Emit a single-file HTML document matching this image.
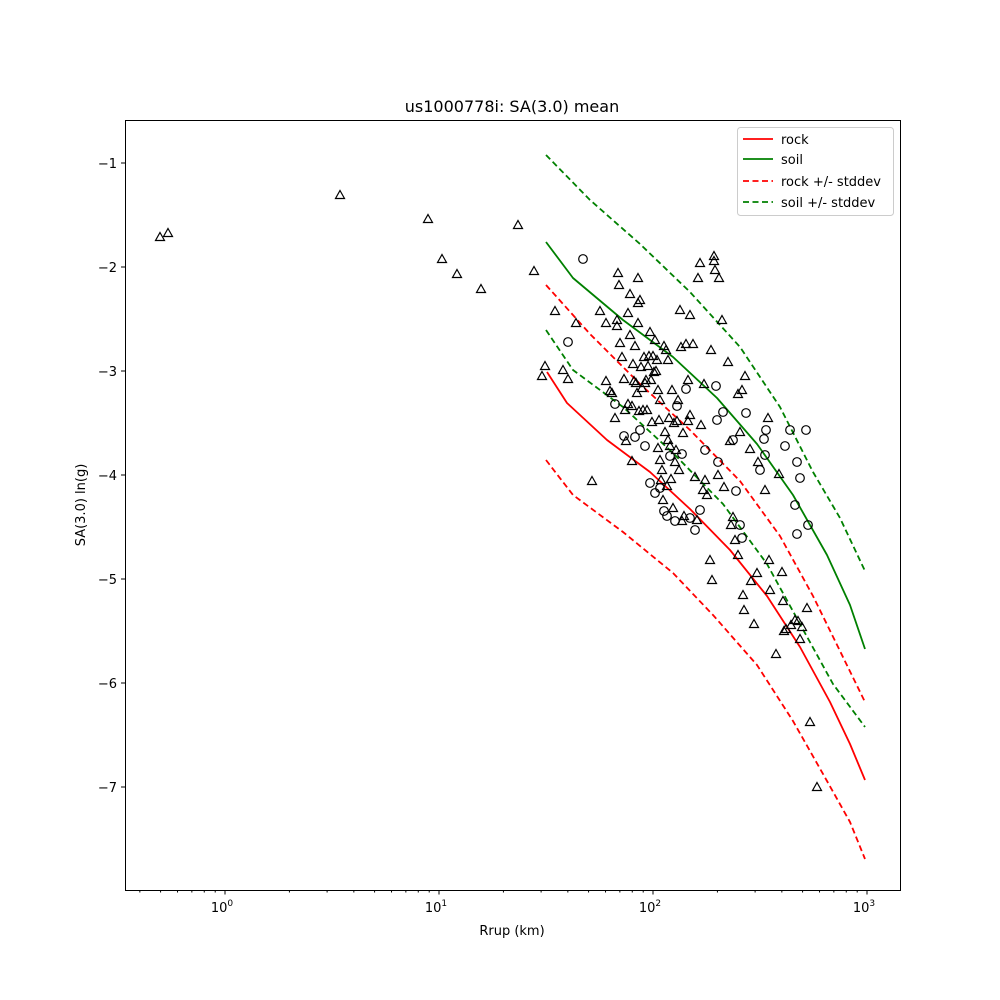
<!DOCTYPE html>
<html><head><meta charset="utf-8"><style>
html,body{margin:0;padding:0;background:#fff;}
svg{display:block;font-family:"DejaVu Sans","Liberation Sans",sans-serif;}
</style></head><body>
<svg id="s" width="1000" height="1000" viewBox="0 0 1000 1000" xmlns="http://www.w3.org/2000/svg">
<rect width="1000" height="1000" fill="#fff"/>
<text x="512" y="112" font-size="16" text-anchor="middle">us1000778i: SA(3.0) mean</text>
<g id="curves" fill="none" stroke-width="1.8" stroke-linejoin="round">
<polyline stroke="#ff0000" points="547,372 567,403 607,440 650,472 690,509 730,550 767,596 800,647 830,702 850,744 865,780"/>
<polyline stroke="#008000" points="546,242 573,278 623,320 673,357 717,398 757,444 793,495 827,555 850,605 865,649"/>
<polyline stroke="#ff0000" stroke-dasharray="6,3.5" points="546,285 590,334 640,384 690,430 740,481 780,536 813,596 840,651 865,702"/>
<polyline stroke="#ff0000" stroke-dasharray="6,3.5" points="546,460 573,495 623,532 673,573 713,615 757,665 793,721 827,781 850,822 865,859"/>
<polyline stroke="#008000" stroke-dasharray="6,3.5" points="546,155 590,200 640,244 690,292 740,347 780,407 813,472 840,518 865,571"/>
<polyline stroke="#008000" stroke-dasharray="6,3.5" points="546,330 573,370 623,407 673,453 723,504 767,564 800,624 833,684 865,727"/>
</g>
<g id="pts" fill="none" stroke="#000" stroke-width="1.2"></g>
<rect x="125.5" y="120.5" width="775" height="770" fill="none" stroke="#000" stroke-width="1"/>
<g id="ticks" stroke="#000" stroke-width="1"></g>
<g font-size="13" text-anchor="end">
<text x="117" y="168">−1</text><text x="117" y="272">−2</text><text x="117" y="376">−3</text>
<text x="117" y="480">−4</text><text x="117" y="584">−5</text><text x="117" y="688">−6</text><text x="117" y="792">−7</text>
</g>
<g font-size="13" text-anchor="middle">
<text x="222" y="912">10<tspan font-size="9" dy="-6">0</tspan></text>
<text x="436" y="912">10<tspan font-size="9" dy="-6">1</tspan></text>
<text x="650" y="912">10<tspan font-size="9" dy="-6">2</tspan></text>
<text x="864" y="912">10<tspan font-size="9" dy="-6">3</tspan></text>
<text x="512" y="935">Rrup (km)</text>
</g>
<text transform="translate(85,505) rotate(-90)" font-size="13" text-anchor="middle">SA(3.0) ln(g)</text>
<g>
<rect x="737.5" y="127.5" width="156" height="88" rx="3" fill="#fff" fill-opacity="0.8" stroke="#ccc"/>
<line x1="743" y1="139" x2="773" y2="139" stroke="#f00" stroke-width="1.8"/>
<line x1="743" y1="159" x2="773" y2="159" stroke="#008000" stroke-width="1.8"/>
<line x1="743" y1="181" x2="773" y2="181" stroke="#f00" stroke-width="1.8" stroke-dasharray="6,3.5"/>
<line x1="743" y1="202" x2="773" y2="202" stroke="#008000" stroke-width="1.8" stroke-dasharray="6,3.5"/>
<g font-size="13"><text x="781" y="144">rock</text><text x="781" y="164">soil</text><text x="781" y="186">rock +/- stddev</text><text x="781" y="207">soil +/- stddev</text></g>
</g>
</svg>
<script>
var NS="http://www.w3.org/2000/svg";
var tri=[[160,237],[168,233],[340,195],[428,219],[442,259],[457,274],[481,289],[518,225],[534,271],[542,376],[545,366],[555,311],[563,370],[568,379],[576,323],[592,481],[600,311],[606,323],[606,381],[610,391],[612,393],[615,418],[617,326],[617,320],[618,273],[619,285],[620,343],[622,357],[624,379],[625,410],[626,441],[628,313],[628,404],[630,294],[630,335],[632,406],[632,461],[633,364],[634,381],[635,346],[636,383],[637,393],[638,278],[638,303],[638,323],[639,411],[640,300],[641,367],[642,388],[643,410],[644,357],[645,383],[646,380],[647,410],[648,366],[649,356],[650,332],[651,380],[652,422],[653,356],[654,372],[655,340],[656,371],[657,360],[658,390],[658,448],[659,420],[660,400],[660,460],[661,480],[662,470],[663,500],[664,346],[665,432],[666,350],[667,486],[668,440],[668,360],[669,418],[670,446],[671,479],[672,390],[673,508],[674,423],[675,462],[676,450],[677,421],[678,400],[679,470],[680,310],[681,347],[682,521],[683,433],[684,516],[686,344],[688,380],[688,421],[690,315],[690,415],[693,344],[695,477],[697,520],[698,278],[700,263],[701,425],[703,490],[704,384],[705,480],[707,495],[710,560],[711,350],[712,580],[714,256],[714,261],[715,270],[718,475],[719,278],[722,320],[724,487],[728,362],[730,441],[731,525],[733,517],[735,540],[738,555],[738,394],[740,432],[742,390],[743,595],[744,610],[745,376],[750,449],[751,581],[754,624],[757,573],[758,462],[765,490],[768,418],[769,560],[770,590],[776,654],[779,474],[782,572],[783,601],[784,631],[786,629],[791,625],[795,620],[800,639],[802,627],[810,722],[817,787],[807,608],[798,621]];
var cir=[[583,259],[568,342],[615,404],[624,436],[635,437],[640,430],[645,446],[650,483],[655,493],[660,488],[664,511],[667,516],[670,456],[675,521],[677,406],[682,454],[686,389],[690,518],[695,530],[700,510],[705,450],[718,462],[723,412],[736,491],[740,525],[742,538],[760,470],[764,439],[766,430],[765,455],[790,430],[795,505],[797,462],[800,478],[797,534],[806,430],[808,525],[785,446],[746,413],[717,420],[733,440],[716,386]];
var g=document.getElementById("pts");
tri.forEach(function(p){var e=document.createElementNS(NS,"polygon");var x=p[0],y=p[1];e.setAttribute("points",(x)+","+(y-4.5)+" "+(x+4.5)+","+(y+3.5)+" "+(x-4.5)+","+(y+3.5));g.appendChild(e);});
cir.forEach(function(p){var e=document.createElementNS(NS,"circle");e.setAttribute("cx",p[0]);e.setAttribute("cy",p[1]);e.setAttribute("r",4.3);g.appendChild(e);});
var t=document.getElementById("ticks");
function ln(x1,y1,x2,y2){var e=document.createElementNS(NS,"line");e.setAttribute("x1",x1);e.setAttribute("y1",y1);e.setAttribute("x2",x2);e.setAttribute("y2",y2);t.appendChild(e);}
for(var v=1;v<=7;v++){var y=163+(v-1)*104;ln(121,y,125,y);}
for(var d=-1;d<=3;d++){for(var m=1;m<10;m++){var x=225+214*(d+Math.log10(m));if(x<125||x>900)continue;if(m==1)ln(x,890,x,894.5);else ln(x,890,x,892.5);}}
</script>
</body></html>
